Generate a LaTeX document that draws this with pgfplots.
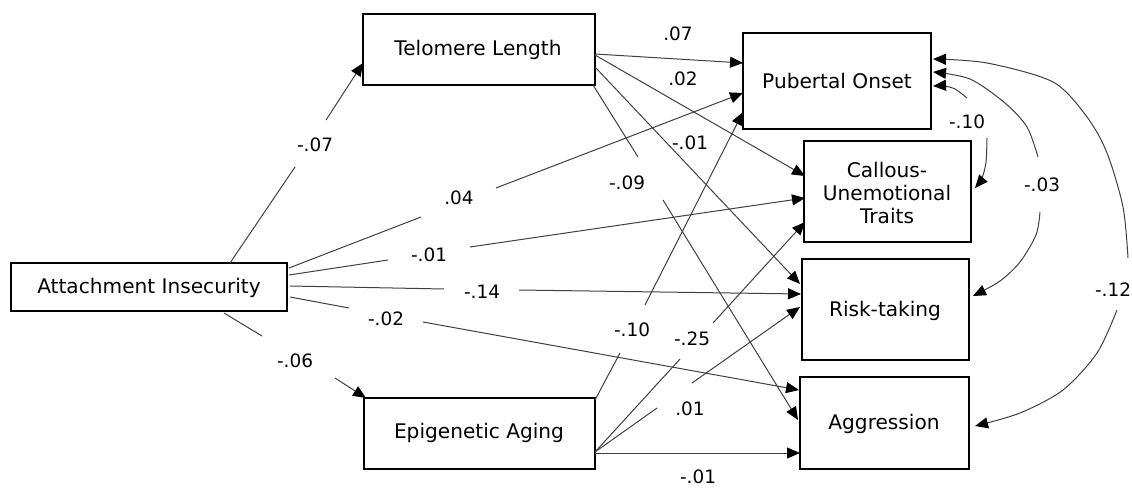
\documentclass[border=0pt]{standalone}
\usepackage{fontspec}
\setmainfont{DejaVu Sans}
\usepackage{pgfplots}
\pgfplotsset{compat=1.18}
\usetikzlibrary{arrows.meta}
\begin{document}
\begin{tikzpicture}[
  ln/.style={line width=1bp,color=black!75,mark=none},
  ar/.style={ln,-{Triangle[length=13bp,width=11bp,color=black,fill=black]}},
  bx/.style={line width=2.4bp,black,mark=none,line join=miter},
  lab/.style={font=\fontsize{18.5}{20}\selectfont,inner sep=0pt},
  box/.style={font=\fontsize{20.2}{23.5}\selectfont,align=center,inner sep=0pt},
]
\begin{axis}[width=1132bp,height=488bp,scale only axis,
  xmin=0,xmax=1132,ymin=0,ymax=488,y dir=reverse,hide axis,clip=false]
\addplot[draw=none,mark=none] coordinates {(0,0) (1132,488)};
% boxes
\addplot[bx] coordinates {(363,14) (595,14) (595,85) (363,85)} -- cycle;
\addplot[bx] coordinates {(743,33) (931,33) (931,129) (743,129)} -- cycle;
\addplot[bx] coordinates {(804,141) (971,141) (971,242) (804,242)} -- cycle;
\addplot[bx] coordinates {(802,259) (969,259) (969,360) (802,360)} -- cycle;
\addplot[bx] coordinates {(800,377) (969,377) (969,469) (800,469)} -- cycle;
\addplot[bx] coordinates {(11,263) (287,263) (287,311) (11,311)} -- cycle;
\addplot[bx] coordinates {(364,398) (595,398) (595,469) (364,469)} -- cycle;
\node[box] at (478,50) {Telomere Length};
\node[box] at (837,81) {Pubertal Onset};
\node[box] at (887,193) {Callous-\\Unemotional\\Traits};
\node[box] at (885,311) {Risk-taking};
\node[box] at (884,424) {Aggression};
\node[box] at (149,288) {Attachment Insecurity};
\node[box] at (479,433) {Epigenetic Aging};
% Attachment paths
\addplot[ln] coordinates {(230,263) (295,167)};
\addplot[ar] coordinates {(326,120) (363,63)};
\addplot[ln] coordinates {(224,313) (262,336)};
\addplot[ar] coordinates {(335,378) (366,398)};
\addplot[ln] coordinates {(289,268) (421,217)};
\addplot[ar] coordinates {(496,188) (743,93)};
\addplot[ln] coordinates {(289,275) (388,260)};
\addplot[ar] coordinates {(470,247) (805,198)};
\addplot[ln] coordinates {(290,286) (444,289)};
\addplot[ar] coordinates {(519,290) (801,294)};
\addplot[ln] coordinates {(290,297) (349,308)};
\addplot[ar] coordinates {(423,322) (799,390)};
% Telomere paths
\addplot[ar] coordinates {(595,54) (743,63)};
\addplot[ar] coordinates {(595,55) (805,176)};
\addplot[ar] coordinates {(595,67) (800,284)};
\addplot[ln] coordinates {(593,85) (638,157)};
\addplot[ar] coordinates {(663,200) (798,420)};
% Epigenetic paths
\addplot[ln] coordinates {(595,400) (620,353)};
\addplot[ar] coordinates {(645,305) (743,112)};
\addplot[ln] coordinates {(595,452) (680,359)};
\addplot[ar] coordinates {(713,323) (805,222)};
\addplot[ln] coordinates {(595,452) (657,408)};
\addplot[ar] coordinates {(692,383) (800,307)};
\addplot[ar] coordinates {(595,453) (800,453)};
% correlations
\addplot[ar,smooth] coordinates {(967,98) (955,89) (944,86) (933,86)};
\addplot[ar,smooth] coordinates {(987,138) (986,162) (982,178) (975,188)};
\addplot[ar,smooth] coordinates {(1038,157) (1027,127) (1005,103) (970,79) (933,72)};
\addplot[ar,smooth] coordinates {(1040,212) (1036,235) (1020,262) (1000,281) (973,296)};
\addplot[ar,smooth] coordinates {(1128,258) (1123,207) (1107,153) (1087,117) (1053,82) (987,63) (933,59)};
\addplot[ar,smooth] coordinates {(1117,310) (1097,353) (1063,390) (1020,413) (975,426)};
% labels
\node[lab] at (315,145) {-.07};
\node[lab] at (295,361) {-.06};
\node[lab] at (459,198) {.04};
\node[lab] at (429,255) {-.01};
\node[lab] at (482,292) {-.14};
\node[lab] at (386,319) {-.02};
\node[lab] at (678,34) {.07};
\node[lab] at (683,79) {.02};
\node[lab] at (690,143) {-.01};
\node[lab] at (627,183) {-.09};
\node[lab] at (632,330) {-.10};
\node[lab] at (692,339) {-.25};
\node[lab] at (690,409) {.01};
\node[lab] at (698,477) {-.01};
\node[lab] at (967,122) {-.10};
\node[lab] at (1042,185) {-.03};
\node[lab] at (1113,290) {-.12};
\end{axis}
\end{tikzpicture}
\end{document}
